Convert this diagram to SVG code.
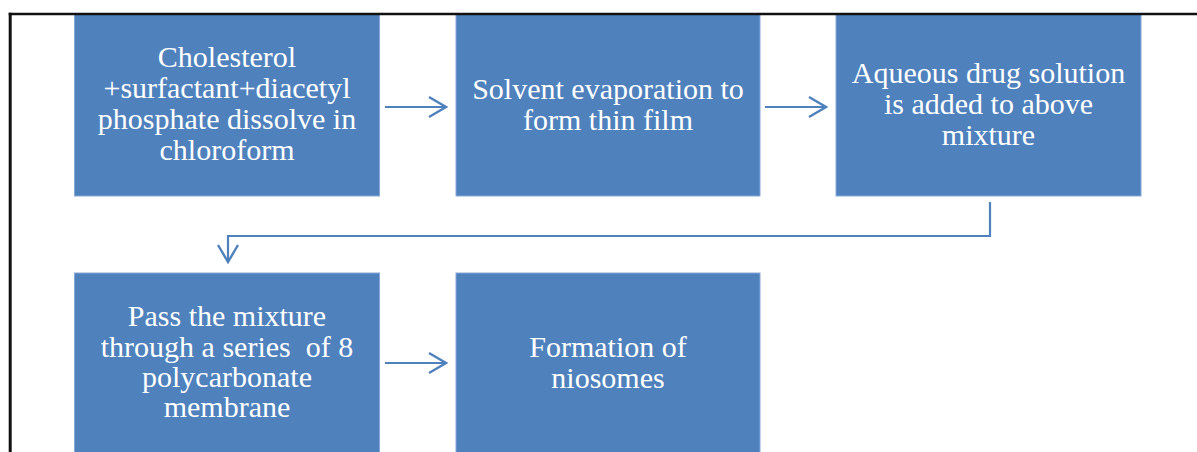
<svg xmlns="http://www.w3.org/2000/svg" width="1197" height="452" viewBox="0 0 1197 452">
<defs>
<style>
.box{fill:#4F81BD;stroke:#86A8D6;stroke-width:1}
.t{font-family:"Liberation Serif","Times New Roman",serif;font-size:30px;fill:#FFFFFF;text-anchor:middle;white-space:pre}
.c{fill:none;stroke:#4F81BD;stroke-width:2.2}
.frame{fill:none;stroke:#111111}
</style>
<marker id="ah" markerWidth="20" markerHeight="24" refX="18" refY="12" orient="auto" markerUnits="userSpaceOnUse">
<path d="M1,2 L18,12 L1,22" fill="none" stroke="#4F81BD" stroke-width="2.4"/>
</marker>
</defs>
<rect x="0" y="0" width="1197" height="452" fill="#FFFFFF"/>
<g id="node1">
<rect class="box" x="74.5" y="14.5" width="305" height="181.5"/>
<text class="t"><tspan x="227" y="67">Cholesterol</tspan><tspan x="227" y="98">+surfactant+diacetyl</tspan><tspan x="227" y="129">phosphate dissolve in</tspan><tspan x="227" y="160">chloroform</tspan></text>
</g>
<g id="node2">
<rect class="box" x="456" y="14.5" width="304" height="181.5"/>
<text class="t"><tspan x="608" y="98.5">Solvent evaporation to</tspan><tspan x="608" y="129.5">form thin film</tspan></text>
</g>
<g id="node3">
<rect class="box" x="836" y="14.5" width="305" height="181.5"/>
<text class="t"><tspan x="988.5" y="83">Aqueous drug solution</tspan><tspan x="988.5" y="114">is added to above</tspan><tspan x="988.5" y="145">mixture</tspan></text>
</g>
<g id="node4">
<rect class="box" x="74.5" y="273" width="305" height="185"/>
<text class="t"><tspan x="227" y="325.5">Pass the mixture</tspan><tspan x="227" y="356.5">through a series  of 8</tspan><tspan x="227" y="387">polycarbonate</tspan><tspan x="227" y="417">membrane</tspan></text>
</g>
<g id="node5">
<rect class="box" x="456" y="273" width="304" height="185"/>
<text class="t"><tspan x="608" y="356.5">Formation of</tspan><tspan x="608" y="387.5">niosomes</tspan></text>
</g>
<g id="connectors">
<path class="c" d="M385,107 L446,107" marker-end="url(#ah)"/>
<path class="c" d="M765,107 L826,107" marker-end="url(#ah)"/>
<path class="c" d="M990,202 L990,236 L228,236 L228,262" marker-end="url(#ah)"/>
<path class="c" d="M385,363 L446,363" marker-end="url(#ah)"/>
</g>
<g id="frame">
<line class="frame" x1="8.7" y1="14" x2="1197" y2="14" stroke-width="2.6"/>
<line class="frame" x1="10.2" y1="12.7" x2="10.2" y2="452" stroke-width="3"/>
</g>
</svg>
